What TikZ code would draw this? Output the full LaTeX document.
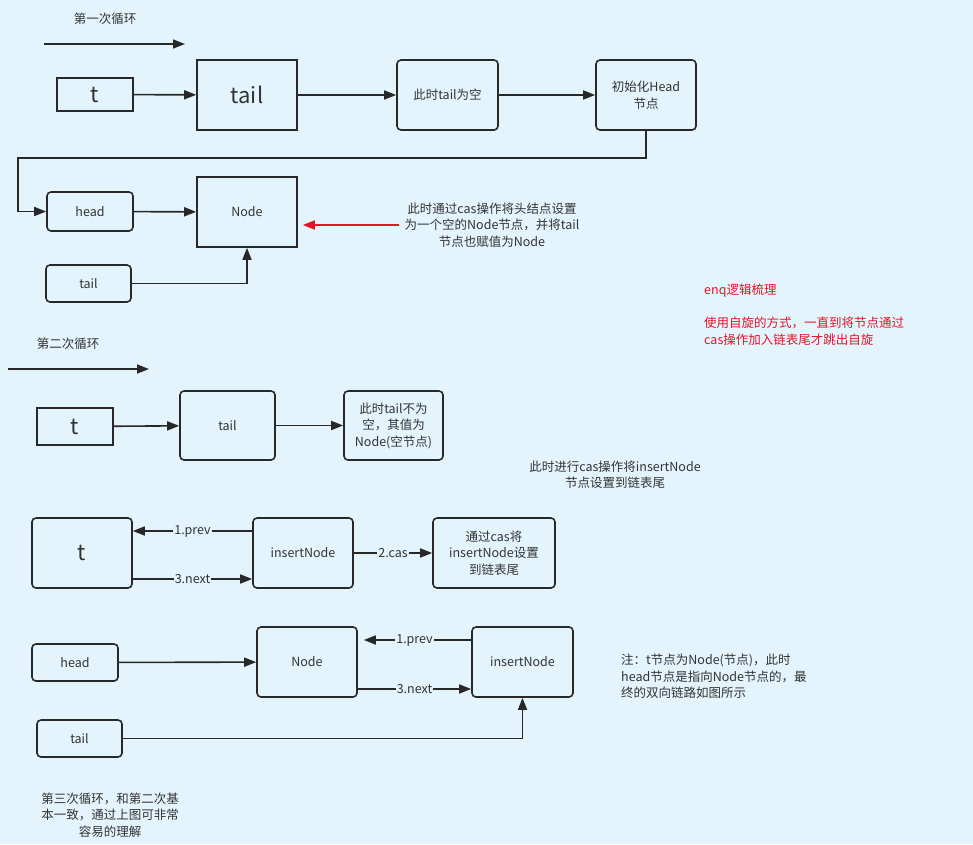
\documentclass[tikz,border=0pt]{standalone}
\usepackage{fontspec}
\setmainfont{Noto Sans CJK SC}
\usetikzlibrary{arrows.meta}
\definecolor{bg}{RGB}{228,244,252}
\definecolor{ink}{RGB}{40,40,40}
\definecolor{txt}{RGB}{51,51,51}
\definecolor{alert}{RGB}{228,20,40}
\tikzset{
  x=1pt, y=-1pt,
  base/.style={draw=ink, line width=1.6pt, inner sep=0pt, align=center, text=txt,
    font=\fontsize{12.5}{16.5}\selectfont},
  sbox/.style={base},
  rbox/.style={base, rounded corners=4pt},
  big/.style={font=\fontsize{22}{26}\selectfont},
  arr/.style={draw=ink, line width=1.6pt, -{Triangle[length=12pt,width=9pt]}},
  redarr/.style={draw=alert, line width=1.6pt, -{Triangle[length=12pt,width=9pt]}},
  plain/.style={text=txt, align=center, inner sep=0pt, font=\fontsize{12.5}{16.5}\selectfont},
  lbl/.style={fill=bg, inner sep=1pt, text=txt, font=\fontsize{12.5}{15}\selectfont},
}
\begin{document}
\begin{tikzpicture}
\fill[bg] (0,0) rectangle (973,844);
\useasboundingbox (0,0) rectangle (973,844);

% ---- first loop ----
\node[plain] (title1) at (105,19) {第一次循环};
\coordinate (l1a) at (44,44);
\coordinate (l1b) at (185,44);
\draw[arr] (l1a) -- (l1b);

\node[sbox, big, minimum width=76, minimum height=33] (t1) at (95,94.5) {t};
\node[sbox, big, minimum width=100, minimum height=70] (tail1) at (247,95) {tail};
\node[rbox, minimum width=101, minimum height=70] (empty1) at (447.5,95) {此时tail为空};
\node[rbox, minimum width=100, minimum height=70] (init1) at (646,95) {初始化Head\\节点};
\draw[arr] (t1) -- (tail1);
\draw[arr] (tail1) -- (empty1);
\draw[arr] (empty1) -- (init1);

\node[rbox, minimum width=86, minimum height=39] (head1) at (90,211.5) {head};
\node[sbox, minimum width=100, minimum height=70] (node1) at (247,212) {Node};
\node[rbox, minimum width=85, minimum height=37] (tailb1) at (88.5,283.5) {tail};
\coordinate (bend1) at (18,158);
\draw[arr] (init1.south) |- (bend1) |- (head1.west);
\draw[arr] (head1) -- (node1);
\draw[arr] (tailb1.east) -| (node1.south);

\node[plain, inner sep=5pt] (note1) at (492,225) {此时通过cas操作将头结点设置\\为一个空的Node节点，并将tail\\节点也赋值为Node};
\draw[redarr, shorten >=5pt] (note1.west) -- (node1.east |- note1.west);

\node[plain, align=left, anchor=north west, text=alert] (summary) at (704,284)
  {enq逻辑梳理\\\mbox{}\\使用自旋的方式，一直到将节点通过\\cas操作加入链表尾才跳出自旋};

% ---- second loop ----
\node[plain] (title2) at (68,344) {第二次循环};
\coordinate (l2a) at (8,369);
\coordinate (l2b) at (149,369);
\draw[arr] (l2a) -- (l2b);

\node[sbox, big, minimum width=76, minimum height=37] (t2) at (75,426.5) {t};
\node[rbox, minimum width=95, minimum height=69] (tail2) at (227.5,425.5) {tail};
\node[rbox, minimum width=99, minimum height=69] (nn2) at (393.5,425.5) {此时tail不为\\空，其值为\\Node(空节点)};
\draw[arr] (t2) -- (tail2);
\draw[arr] (tail2) -- (nn2);

\node[plain] (note2) at (615,475) {此时进行cas操作将insertNode\\节点设置到链表尾};

\node[rbox, big, minimum width=100, minimum height=70] (t3) at (82,553) {t};
\node[rbox, minimum width=100, minimum height=70] (ins3) at (303,553) {insertNode};
\node[rbox, minimum width=122, minimum height=70] (cas3) at (494,553) {通过cas将\\insertNode设置\\到链表尾};
\draw[arr] ([yshift=22pt]ins3.west) -- node[lbl] {1.prev} ([yshift=22pt]t3.east);
\draw[arr] ([yshift=-26pt]t3.east) -- node[lbl] {3.next} ([yshift=-26pt]ins3.west);
\draw[arr] (ins3) -- node[lbl] {2.cas} (cas3);

\node[rbox, minimum width=86, minimum height=37] (head4) at (75,662.5) {head};
\node[rbox, minimum width=100, minimum height=70] (node4) at (307,662) {Node};
\node[rbox, minimum width=101, minimum height=70] (ins4) at (522.5,662) {insertNode};
\node[rbox, minimum width=85, minimum height=37] (tail4) at (79.5,738.5) {tail};
\draw[arr] (head4) -- (node4);
\draw[arr, shorten >=6pt] ([yshift=22pt]ins4.west) -- node[lbl] {1.prev} ([yshift=22pt]node4.east);
\draw[arr] ([yshift=-27pt]node4.east) -- node[lbl] {3.next} ([yshift=-27pt]ins4.west);
\draw[arr] (tail4.east) -| (ins4.south);

\node[plain, align=left, anchor=north west] (note4) at (621,654)
  {注：t节点为Node(节点)，此时\\head节点是指向Node节点的，最\\终的双向链路如图所示};

% ---- third loop ----
\node[plain] (note5) at (110,815) {第三次循环，和第二次基\\本一致，通过上图可非常\\容易的理解};
\end{tikzpicture}
\end{document}
